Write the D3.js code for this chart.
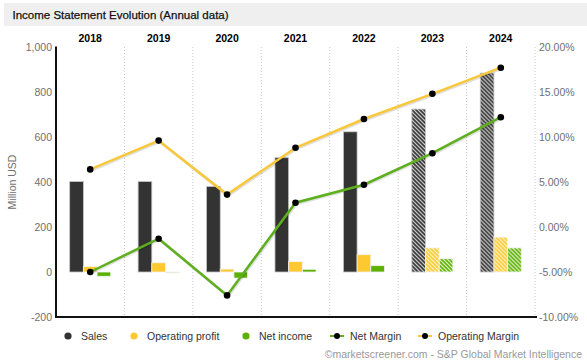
<!DOCTYPE html>
<html>
<head>
<meta charset="utf-8">
<script src="https://cdn.jsdelivr.net/npm/d3@7"></script>
<style>
  body { margin: 0; background: #fff; }
  svg { display: block; font-family: "Liberation Sans", Arial, sans-serif; }
</style>
</head>
<body>
<svg id="chart" width="587" height="362"></svg>
<script>
// data
var years = ["2018", "2019", "2020", "2021", "2022", "2023", "2024"];
var estimated = [false, false, false, false, false, true, true];
var sales = [402, 402, 380, 508, 623, 724, 884];
var operatingProfit = [25, 41, 13, 46, 77, 107, 155];
var netIncome = [-19, -4, -27, 12, 28, 59, 107];
var netMargin = [-5.0, -1.3, -7.6, 2.7, 4.7, 8.2, 12.2];
var operatingMargin = [6.4, 9.6, 3.6, 8.8, 12.0, 14.8, 17.7];
var leftTicks = [-200, 0, 200, 400, 600, 800, 1000];
var rightTicks = [-10, -5, 0, 5, 10, 15, 20];

var colors = { sales: "#333333", op: "#fcc930", ni: "#5bb000", niLine: "#5daf1c", opLine: "#f8c83a" };

var svg = d3.select("#chart");
var plot = { left: 56, right: 535, top: 47, bottom: 317 };

var fmt = d3.formatLocale({ decimal: ".", thousands: ",", grouping: [3], currency: ["$", ""], minus: "-" });
var fmtLeft = fmt.format(",");
var fmtRight = function(v){ return fmt.format(".2f")(v) + "%"; };

// patterns for estimated years
var defs = svg.append("defs");
function hatch(id, fg, bg){
	var p = defs.append("pattern").attr("id", id).attr("patternUnits", "userSpaceOnUse")
		.attr("width", 4).attr("height", 4);
	p.append("rect").attr("width", 4).attr("height", 4).attr("fill", bg);
	p.append("path").attr("d", "M-1,3 L1,5 M0,0 L4,4 M3,-1 L5,1")
		.attr("stroke", fg).attr("stroke-width", 1.6);
}
hatch("h-sales", colors.sales, "#d8d8d8");
hatch("h-op", colors.op, "#fff6d8");
hatch("h-ni", colors.ni, "#eaf6dc");

// title band
svg.append("rect").attr("x", 4).attr("y", 3).attr("width", 583).attr("height", 23).attr("fill", "#efefef");
svg.append("text").attr("x", 12.5).attr("y", 19).attr("font-size", 11.5).attr("fill", "#111")
	.attr("stroke", "#111").attr("stroke-width", 0.25)
	.text("Income Statement Evolution (Annual data)");

var x0 = d3.scaleBand().domain(years).range([plot.left, plot.right]);
var x1 = d3.scaleBand().domain(["sales", "op", "ni"]).range([x0.bandwidth() * 0.2, x0.bandwidth() * 0.8]);
var yL = d3.scaleLinear().domain([-200, 1000]).range([plot.bottom, plot.top]);
var yR = d3.scaleLinear().domain([-10, 20]).range([plot.bottom, plot.top]);

// dotted separators between years
svg.append("g").selectAll("line").data(years).enter().append("line")
	.attr("x1", function(d){ return x0(d) + x0.bandwidth(); })
	.attr("x2", function(d){ return x0(d) + x0.bandwidth(); })
	.attr("y1", plot.top).attr("y2", plot.bottom)
	.attr("stroke", "#c8c8c8").attr("stroke-width", 1).attr("stroke-dasharray", "1,2");

// year labels on top
svg.append("g").selectAll("text").data(years).enter().append("text")
	.attr("x", function(d){ return x0(d) + x0.bandwidth() / 2; })
	.attr("y", 42).attr("text-anchor", "middle").attr("font-size", 10.5)
	.attr("font-weight", "bold").attr("fill", "#000").text(function(d){ return d; });

// left axis
var gl = svg.append("g").attr("transform", "translate(" + plot.left + ",0)")
	.call(d3.axisLeft(yL).tickValues(leftTicks).tickFormat(fmtLeft).tickSize(0).tickPadding(4));
gl.select(".domain").remove();
gl.selectAll("text").attr("font-size", 10.5).attr("fill", "#707070").attr("font-family", null);

// right axis
var gr = svg.append("g").attr("transform", "translate(" + plot.right + ",0)")
	.call(d3.axisRight(yR).tickValues(rightTicks).tickFormat(fmtRight).tickSize(0).tickPadding(4));
gr.select(".domain").remove();
gr.selectAll("text").attr("font-size", 10.5).attr("fill", "#707070").attr("font-family", null);

svg.append("text").attr("transform", "translate(16," + (plot.top + plot.bottom) / 2 + ") rotate(-90)")
	.attr("text-anchor", "middle").attr("font-size", 10.5).attr("fill", "#707070").text("Million USD");

// bars
var rows = years.map(function(y, i){
	return { year: y, est: estimated[i], vals: [
		{ key: "sales", v: sales[i] }, { key: "op", v: operatingProfit[i] }, { key: "ni", v: netIncome[i] }] };
});
var fills = { sales: colors.sales, op: colors.op, ni: colors.ni };
var groups = svg.append("g").selectAll("g").data(rows).enter().append("g")
	.attr("transform", function(d){ return "translate(" + x0(d.year) + ",0)"; });
groups.selectAll("rect").data(function(d){
		return d.vals.map(function(b){ return { key: b.key, v: b.v, est: d.est }; });
	}).enter().append("rect")
	.attr("x", function(d){ return x1(d.key); })
	.attr("width", x1.bandwidth())
	.attr("y", function(d){ return Math.min(yL(d.v), yL(0)); })
	.attr("height", function(d){ return Math.max(Math.abs(yL(d.v) - yL(0)), 0.8); })
	.attr("fill", function(d){ return d.est ? "url(#h-" + d.key + ")" : fills[d.key]; })
	.attr("stroke", function(d){ return d.key === "sales" ? "#c4c4c4" : "#f2f2f2"; })
	.attr("stroke-width", 0.8);

// margin lines on right scale
var cx = function(i){ return x0(years[i]) + x0.bandwidth() / 2; };
function marginLine(vals, color){
	var line = d3.line().x(function(d, i){ return cx(i); }).y(function(d){ return yR(d); });
	svg.append("path").datum(vals).attr("d", line).attr("fill", "none")
		.attr("stroke", "#000").attr("stroke-opacity", 0.12).attr("stroke-width", 3)
		.attr("transform", "translate(1,1)");
	svg.append("path").datum(vals).attr("d", line).attr("fill", "none")
		.attr("stroke", color).attr("stroke-width", 2.5);
	svg.append("g").selectAll("circle").data(vals).enter().append("circle")
		.attr("cx", function(d, i){ return cx(i); }).attr("cy", function(d){ return yR(d); })
		.attr("r", 3.3).attr("fill", "#000");
}
marginLine(operatingMargin, colors.opLine);
marginLine(netMargin, colors.niLine);

// axis lines
svg.append("line").attr("x1", plot.left).attr("x2", plot.left).attr("y1", plot.top - 0.5).attr("y2", plot.bottom + 1)
	.attr("stroke", "#111").attr("stroke-width", 2);
svg.append("line").attr("x1", plot.left - 1).attr("x2", plot.right + 2).attr("y1", plot.bottom).attr("y2", plot.bottom)
	.attr("stroke", "#111").attr("stroke-width", 2);

// legend
var legendItems = [
	{ name: "Sales", type: "dot", color: colors.sales, x: 61 },
	{ name: "Operating profit", type: "dot", color: colors.op, x: 127 },
	{ name: "Net income", type: "dot", color: colors.ni, x: 239 },
	{ name: "Net Margin", type: "line", color: colors.niLine, x: 330 },
	{ name: "Operating Margin", type: "line", color: colors.opLine, x: 418 }
];
var ly = 336;
var lg = svg.append("g").selectAll("g").data(legendItems).enter().append("g")
	.attr("transform", function(d){ return "translate(" + d.x + "," + ly + ")"; });
lg.filter(function(d){ return d.type === "dot"; }).append("circle")
	.attr("cx", 7).attr("r", 3.6).attr("fill", function(d){ return d.color; });
lg.filter(function(d){ return d.type === "line"; }).append("line")
	.attr("x1", 0).attr("x2", 14).attr("stroke", function(d){ return d.color; }).attr("stroke-width", 2);
lg.filter(function(d){ return d.type === "line"; }).append("circle")
	.attr("cx", 7).attr("r", 3).attr("fill", "#000");
lg.append("text").attr("x", 20).attr("y", 4)
	.attr("font-size", 10.5).attr("fill", "#333").text(function(d){ return d.name; });

// credits
svg.append("text").attr("x", 582).attr("y", 358).attr("text-anchor", "end")
	.attr("font-size", 10.5).attr("fill", "#999").text("\u00a9marketscreener.com - S&P Global Market Intelligence");
</script>
</body>
</html>
